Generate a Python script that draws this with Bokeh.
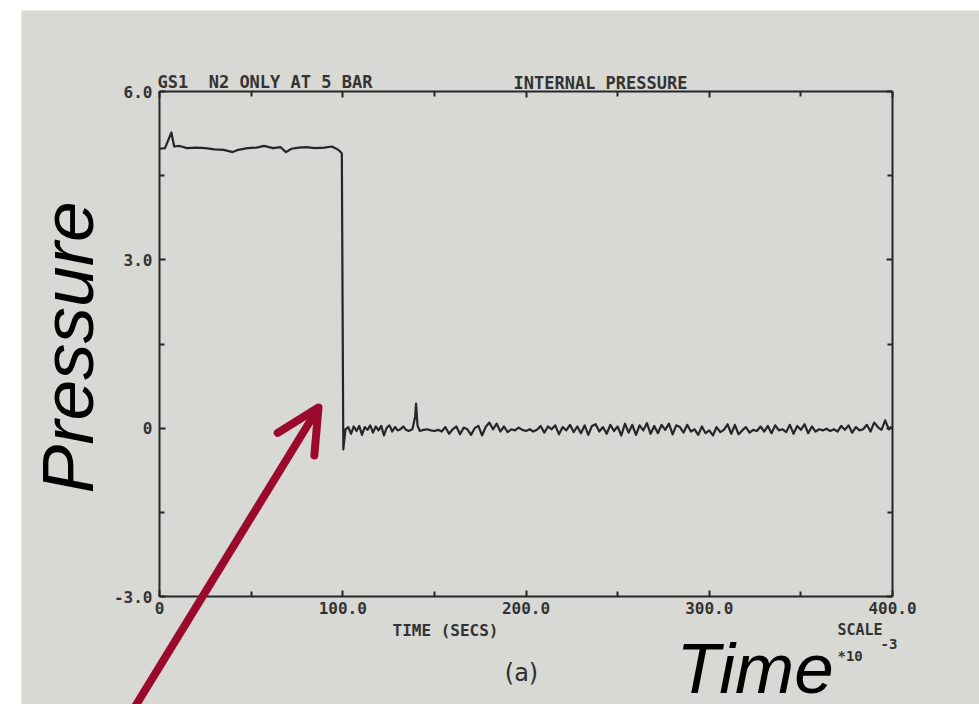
import numpy as np
from bokeh.plotting import figure
from bokeh.models import (LinearAxis, FixedTicker, Label, Arrow, OpenHead,
                          Range1d, Spacer)
from bokeh.layouts import row, column
from bokeh.embed import file_html
from bokeh.resources import INLINE

# ---------------- data ----------------
time_high = [0, 3, 6.5, 8, 11, 15, 20, 25, 30, 35, 40, 43, 48, 53, 57, 62, 66,
             69, 72, 76, 80, 85, 90, 94, 96, 98, 99.5]
pressure_high = [4.98, 4.99, 5.27, 5.02, 5.03, 4.99, 5.00, 4.99, 4.97, 4.96,
                 4.92, 4.96, 4.99, 5.00, 5.03, 4.99, 5.01, 4.92, 4.98, 5.00,
                 5.01, 4.99, 5.00, 5.02, 4.99, 4.95, 4.90]

time_low = [100.3, 101.5, 103, 104.5, 106, 107.5, 109, 110.5, 112, 113.5, 115,
            116.5, 118, 119.5, 121, 122.5, 124, 125.5, 127, 128.5, 130, 131.5,
            133, 134.5, 136, 138, 139.5, 140, 140.8, 142, 144, 146, 148, 150,
            152, 154, 156, 158, 160, 162, 164, 166, 168, 170, 172, 174, 176,
            178, 180, 182, 184, 186, 188, 190, 192, 194, 196, 198, 200, 202,
            204, 206, 208, 210, 212, 214, 216, 218, 220, 222, 224, 226, 228,
            230, 232, 234, 236, 238, 240, 242, 244, 246, 248, 250, 252, 254,
            256, 258, 260, 262, 264, 266, 268, 270, 272, 274, 276, 278, 280,
            282, 284, 286, 288, 290, 292, 294, 296, 298, 300, 302, 304, 306,
            308, 310, 312, 314, 316, 318, 320, 322, 324, 326, 328, 330, 332,
            334, 336, 338, 340, 342, 344, 346, 348, 350, 352, 354, 356, 358,
            360, 362, 364, 366, 368, 370, 372, 374, 376, 378, 380, 382, 384,
            386, 388, 390, 392, 394, 396, 398, 399.5]
pressure_low = [-0.38, -0.02, 0.02, -0.10, 0.03, -0.05, 0.04, -0.12, 0.02,
                -0.03, 0.05, -0.08, 0.03, -0.04, 0.04, -0.13, 0.01, 0.05,
                -0.06, 0.02, -0.04, -0.02, 0.03, -0.03, -0.05, -0.02, 0.20,
                0.44, 0.05, -0.05, -0.03, -0.02, -0.04, -0.05, -0.03, -0.06,
                0.02, -0.10, -0.02, 0.03, -0.11, 0.01, -0.02, -0.12, 0.00,
                0.04, -0.13, 0.02, 0.10, -0.02, 0.08, -0.06, 0.03, -0.07,
                -0.02, -0.04, 0.01, -0.03, -0.05, -0.02, -0.06, -0.03, 0.04,
                -0.08, 0.03, -0.02, 0.05, -0.11, 0.02, -0.04, 0.06, -0.07,
                0.03, -0.09, 0.05, -0.12, 0.04, 0.07, -0.06, 0.02, -0.10,
                0.06, -0.05, 0.03, -0.13, 0.08, -0.08, 0.06, -0.12, 0.05,
                -0.04, 0.09, -0.10, 0.04, -0.09, 0.06, -0.03, 0.08, -0.11,
                0.05, 0.02, -0.08, 0.06, -0.06, -0.02, -0.12, 0.03, -0.09,
                -0.04, -0.13, 0.02, -0.07, -0.03, 0.07, -0.10, 0.06, -0.11,
                -0.04, 0.02, -0.08, -0.03, -0.05, 0.03, -0.06, 0.04, -0.09,
                0.05, -0.04, -0.02, -0.07, 0.06, -0.10, 0.04, -0.03, 0.07,
                -0.09, 0.03, -0.06, -0.02, -0.04, -0.01, -0.05, -0.02, -0.06,
                0.04, -0.03, 0.05, -0.08, 0.02, -0.04, -0.02, 0.06, -0.06,
                0.10, 0.02, -0.03, 0.14, -0.02, 0.03]

x_bounds = (0, 400)
y_bounds = (-3, 6)
x_ticks = [0, 100, 200, 300, 400]
x_minor = [50, 150, 250, 350]
x_tick_labels = ["0", "100.0", "200.0", "300.0", "400.0"]
y_ticks = [6, 3, 0, -3]
y_minor = [4.5, 1.5, -1.5]
y_tick_labels = ["6.0", "3.0", "0", "-3.0"]

# ---------------- layout (page pixels -> data units) ----------------
PAD_L, PAD_T = 21, 10          # white margin of the photographed page
W, H = 979 - PAD_L, 704 - PAD_T
FX0, FX1 = 159.0, 892.0        # page x of the plotted box
FY0, FY1 = 91.0, 596.0         # page y of the plotted box


def tx(px):
    return x_bounds[0] + (px - FX0) * (x_bounds[1] - x_bounds[0]) / (FX1 - FX0)


def vy(py):
    return y_bounds[1] - (py - FY0) * (y_bounds[1] - y_bounds[0]) / (FY1 - FY0)


PAPER = "#d8d8d5"
INK = "#262626"
PLOT_FONT = "DejaVu Sans Mono"

p = figure(width=W, height=H, output_backend="svg", toolbar_location=None,
           x_range=Range1d(tx(PAD_L), tx(979)),
           y_range=Range1d(vy(704), vy(PAD_T)),
           min_border=0, x_axis_location=None, y_axis_location=None)
p.background_fill_color = PAPER
p.border_fill_color = PAPER
p.outline_line_color = None
p.grid.visible = False


def style_axis(ax, ticks, minor, bounds, loc, labels=None):
    ax.ticker = FixedTicker(ticks=ticks, minor_ticks=minor)
    ax.bounds = bounds
    ax.fixed_location = loc
    ax.axis_line_color = INK
    ax.axis_line_width = 2
    ax.major_tick_in = 6
    ax.major_tick_out = 0
    ax.minor_tick_in = 5
    ax.minor_tick_out = 0
    ax.major_tick_line_color = INK
    ax.minor_tick_line_color = INK
    ax.major_tick_line_width = 2
    ax.minor_tick_line_width = 2
    ax.major_label_text_font = PLOT_FONT
    ax.major_label_text_font_style = "bold"
    ax.major_label_text_font_size = "16px"
    ax.major_label_text_color = "#333333"
    if labels is None:
        ax.major_label_text_alpha = 0
    else:
        ax.major_label_overrides = {t: l for t, l in zip(ticks, labels)}


xb = LinearAxis()
style_axis(xb, x_ticks, x_minor, x_bounds, y_bounds[0], x_tick_labels)
xb.major_label_standoff = 5
p.add_layout(xb, "below")

yl = LinearAxis()
style_axis(yl, y_ticks, y_minor, y_bounds, x_bounds[0], y_tick_labels)
yl.major_label_standoff = 7
p.add_layout(yl, "left")

xt = LinearAxis()
style_axis(xt, x_ticks, x_minor, x_bounds, y_bounds[1])
p.add_layout(xt, "above")

yr = LinearAxis()
style_axis(yr, y_ticks, y_minor, y_bounds, x_bounds[1])
p.add_layout(yr, "right")

# ---------------- the trace ----------------
t_all = list(time_high) + list(time_low)
v_all = list(pressure_high) + list(pressure_low)
p.line(t_all, v_all, line_color=INK, line_width=2.2, line_join="round")


# ---------------- texts ----------------
BASE_SHIFT = 0.41   # measured offset of the renderer's alphabetic baseline


def page_text(txt, px, py, size=16, align="left", font=PLOT_FONT,
              style="bold", color="#333333", angle=0.0):
    d = BASE_SHIFT * size
    px2 = px - np.sin(angle) * d
    py2 = py - np.cos(angle) * d
    p.add_layout(Label(x=tx(px2), y=vy(py2), text=txt, text_font=font,
                       text_font_style=style, text_font_size=f"{size}px",
                       text_color=color, text_align=align,
                       text_baseline="alphabetic", angle=angle))


page_text("GS1\u00a0\u00a0N2 ONLY AT 5 BAR", 157, 88, size=17)
page_text("INTERNAL PRESSURE", 513, 89, size=17)
page_text("TIME (SECS)", 445, 637, align="center", size=16)
page_text("SCALE", 837, 636, size=15)
page_text("-3", 880, 649, size=14)
page_text("*10", 837, 661, size=14)
page_text("(a)", 521, 682, size=24, font="DejaVu Sans", style="normal",
          align="center", color="#2e2e2e")

page_text("Pressure", 97, 493, size=73, font="Liberation Sans",
          style="italic", color="#000000", angle=np.pi / 2)
page_text("Time", 676, 697, size=71, font="Liberation Sans",
          style="italic", color="#000000")

arrow = Arrow(x_start=tx(126), y_start=vy(720), x_end=tx(318), y_end=vy(407),
              line_color="#9b0a2d", line_width=8,
              end=OpenHead(size=43, line_color="#9b0a2d", line_width=8,
                           line_cap="round", line_join="round"))
p.add_layout(arrow)

layout = row(Spacer(width=PAD_L, height=704),
             column(Spacer(width=W, height=PAD_T), p))

open("out.html", "w").write(file_html(layout, INLINE))
